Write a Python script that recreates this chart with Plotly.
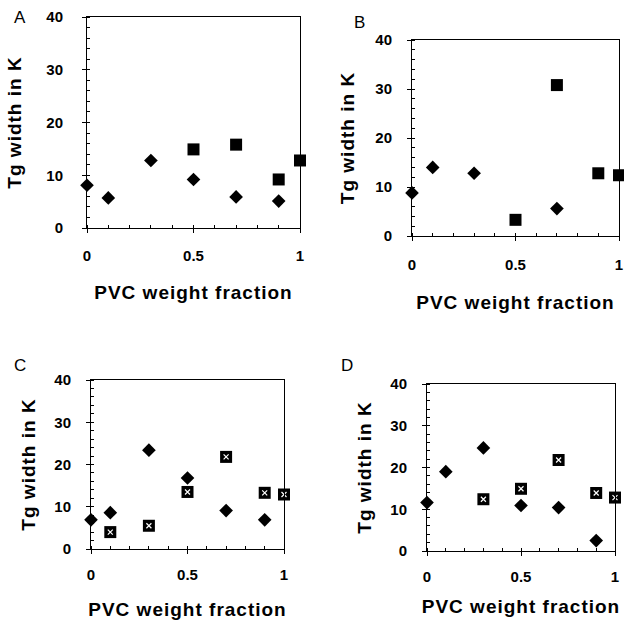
import plotly.graph_objects as go

W, H = 624, 625

# Panel A
a_dia_x = [0, 0.1, 0.3, 0.5, 0.7, 0.9]
a_dia_y = [8.1, 5.7, 12.8, 9.2, 5.9, 5.1]
a_sq_x = [0.5, 0.7, 0.9, 1.0]
a_sq_y = [14.9, 15.8, 9.2, 12.8]

# Panel B
b_dia_x = [0, 0.1, 0.3, 0.7]
b_dia_y = [8.8, 14.0, 12.8, 5.6]
b_sq_x = [0.5, 0.7, 0.9, 1.0]
b_sq_y = [3.3, 30.8, 12.8, 12.4]

# Panel C
c_dia_x = [0, 0.1, 0.3, 0.5, 0.7, 0.9]
c_dia_y = [6.9, 8.6, 23.4, 16.8, 9.1, 6.9]
c_sq_x = [0.1, 0.3, 0.5, 0.7, 0.9, 1.0]
c_sq_y = [4.0, 5.5, 13.5, 21.8, 13.3, 12.9]

# Panel D
d_dia_x = [0, 0.1, 0.3, 0.5, 0.7, 0.9]
d_dia_y = [11.6, 19.0, 24.7, 10.9, 10.4, 2.5]
d_sq_x = [0.3, 0.5, 0.7, 0.9, 1.0]
d_sq_y = [12.4, 14.9, 21.8, 13.9, 12.8]

panel_labels = ["A", "B", "C", "D"]
x_title = "PVC weight fraction"
y_title = "Tg width in K"
x_ticks = [0, 0.5, 1]
x_ticktext = ["0", "0.5", "1"]
y_ticks = [0, 10, 20, 30, 40]

# plot-area pixel boxes (left, right, top, bottom)
boxes = [(87, 300, 17, 228), (412, 619, 40, 236), (91, 284, 380, 549), (427, 615, 384, 551)]
letter_pos = [(20, 17), (360, 22), (20, 365), (347, 365)]
y_title_standoff = [19, 15, 13, 13]
y_label_standoff = [16, 12, 12, 12]
x_label_standoff = [10, 11, 8, 8]
x_title_standoff = [22, 23, 20, 15]

panels = [
    (a_dia_x, a_dia_y, a_sq_x, a_sq_y, False),
    (b_dia_x, b_dia_y, b_sq_x, b_sq_y, False),
    (c_dia_x, c_dia_y, c_sq_x, c_sq_y, True),
    (d_dia_x, d_dia_y, d_sq_x, d_sq_y, True),
]

FONT = "Liberation Sans, Arial, sans-serif"
SP = '<span style="letter-spacing:1px">{}</span>'
fig = go.Figure()
layout = dict(
    width=W, height=H, margin=dict(l=0, r=0, t=0, b=0, autoexpand=False),
    paper_bgcolor="white", plot_bgcolor="white", showlegend=False,
    font=dict(family=FONT, color="black"),
)
annotations = []
for i, ((dx, dy, sx, sy, hatched), (l, r, t, b)) in enumerate(zip(panels, boxes)):
    n = "" if i == 0 else str(i + 1)
    xa, ya = "x" + n, "y" + n
    fig.add_trace(go.Scatter(x=dx, y=dy, mode="markers", xaxis=xa, yaxis=ya, cliponaxis=False,
                             marker=dict(symbol="diamond", size=10.5, color="black")))
    fig.add_trace(go.Scatter(x=sx, y=sy, mode="markers", xaxis=xa, yaxis=ya, cliponaxis=False,
                             marker=dict(symbol="square", size=12, color="black")))
    if hatched:
        fig.add_trace(go.Scatter(x=sx, y=sy, mode="markers", xaxis=xa, yaxis=ya, cliponaxis=False,
                                 marker=dict(symbol="x-thin", size=5, color="white",
                                             line=dict(color="white", width=1.2))))
    common = dict(showgrid=False, zeroline=False, showline=True, linecolor="black", linewidth=1,
                  mirror=True, ticks="outside", ticklen=4, tickcolor="black", automargin=False,
                  tickfont=dict(family=FONT, size=15, color="black", weight="bold"))
    layout["xaxis" + n] = dict(
        common, domain=[l / W, r / W], range=[0, 1], anchor=ya,
        tickvals=x_ticks, ticktext=x_ticktext, ticklabelstandoff=x_label_standoff[i],
        minor=dict(ticks="inside", ticklen=3, dtick=0.1, tickcolor="black"),
        title=dict(text=SP.format(x_title), standoff=x_title_standoff[i],
                   font=dict(family=FONT, size=19, color="black", weight="bold")),
    )
    layout["yaxis" + n] = dict(
        common, domain=[1 - b / H, 1 - t / H], range=[0, 40], anchor=xa,
        tickvals=y_ticks, ticklabelstandoff=y_label_standoff[i],
        minor=dict(ticks="inside", ticklen=3, dtick=2, tickcolor="black"),
        title=dict(text=SP.format(y_title), standoff=y_title_standoff[i],
                   font=dict(family=FONT, size=19, color="black", weight="bold")),
    )
    lx, ly = letter_pos[i]
    annotations.append(dict(text=panel_labels[i], x=lx / W, y=1 - ly / H, xref="paper", yref="paper",
                            showarrow=False, xanchor="center", yanchor="middle",
                            font=dict(family=FONT, size=17, color="black")))
layout["annotations"] = annotations
fig.update_layout(**layout)
fig.write_html("out.html", config={"displayModeBar": False},
               post_script="document.body.style.margin='0';")
